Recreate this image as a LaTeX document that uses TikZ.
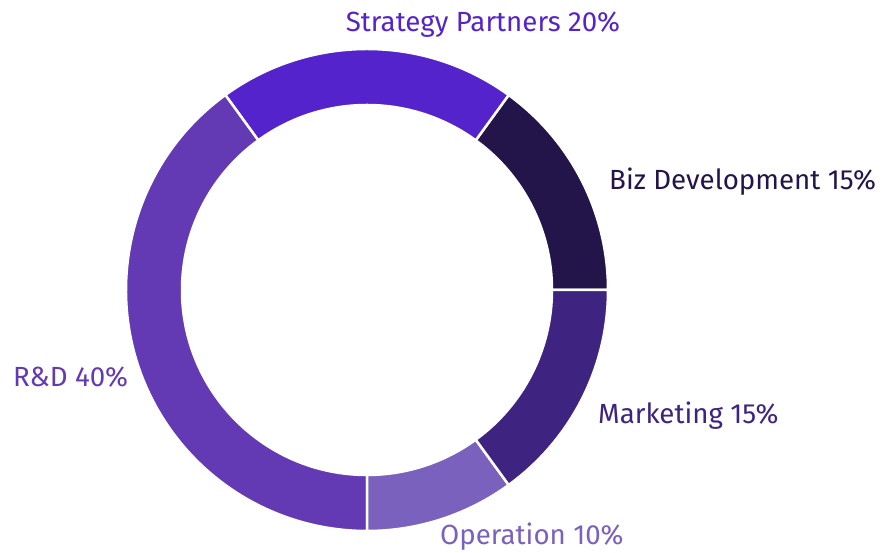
\documentclass[tikz,border=0pt]{standalone}
\usepackage{fontspec}
\setmainfont{Fira Sans}
\definecolor{bizdev}{HTML}{23154A}
\definecolor{strategy}{HTML}{5423CC}
\definecolor{rnd}{HTML}{6439B4}
\definecolor{operation}{HTML}{7B61BE}
\definecolor{marketing}{HTML}{3E2381}
\tikzset{
  seglabel/.style={font=\fontsize{27.7}{32}\selectfont, inner sep=0pt}
}
\begin{document}
\begin{tikzpicture}[x=1pt,y=1pt]
    \useasboundingbox (0,0) rectangle (886,553);
    \begin{scope}[shift={(367,263)}]
        \foreach \a/\b/\c in {0/54/bizdev, 54/126/strategy, 126/270/rnd, 270/306/operation, 306/360/marketing}
            \filldraw[fill=\c, draw=white, line width=2.5pt] (\a:241) arc[start angle=\a, end angle=\b, radius=241] -- (\b:185) arc[start angle=\b, end angle=\a, radius=185] -- cycle;
    \end{scope}
    \node[seglabel, strategy, anchor=base] (strategylbl) at (483,521) {Strategy Partners 20\%};
    \node[seglabel, bizdev, anchor=base west] (bizdevlbl) at (609,363) {Biz Development 15\%};
    \node[seglabel, marketing, anchor=base west] (marketinglbl) at (598,129) {Marketing 15\%};
    \node[seglabel, operation, anchor=base west] (operationlbl) at (440,8) {Operation 10\%};
    \node[seglabel, rnd, anchor=base west] (rndlbl) at (13,166) {R\&D 40\%};
\end{tikzpicture}
\end{document}
